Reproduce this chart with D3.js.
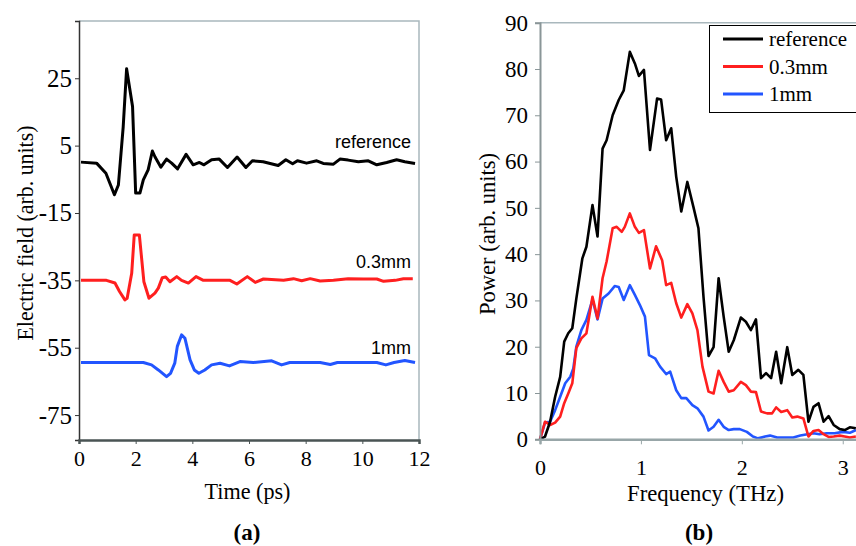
<!DOCTYPE html>
<html>
<head>
<meta charset="utf-8">
<script src="https://cdn.jsdelivr.net/npm/d3@7"></script>
<style>
  body { margin: 0; background: #fff; }
  svg { display: block; }
  text { font-family: "Liberation Serif", "Times New Roman", serif; }
  text.sans { font-family: "Liberation Sans", Arial, sans-serif; }
</style>
</head>
<body>
<svg id="chart" width="856" height="546"></svg>
<script>
// (a) time-domain traces, offset vertically
const timeRef  = [0.07,0.62,0.95,1.25,1.39,1.56,1.68,1.89,2.0,2.15,2.27,2.44,2.59,2.68,2.89,3.09,3.27,3.48,3.78,4.03,4.25,4.41,4.68,4.95,5.24,5.58,5.89,6.12,6.5,7.03,7.3,7.54,7.71,8.03,8.39,8.62,8.98,9.21,9.5,9.86,10.21,10.51,10.86,11.21,11.5,11.86]
const fieldRef = [0.1,-0.2,-3.2,-9.6,-6.7,10.6,27.8,16.6,-9.1,-9.1,-5.2,-2.2,3.4,1.7,-1.4,1.0,-0.2,-1.9,2.4,-0.7,0,-0.7,0.8,1.0,-1.5,1.6,-1.5,0.5,0.2,-0.9,0.8,-0.4,0.5,-0.2,0.5,-0.3,-0.5,1.0,0.7,0.2,0.5,-0.7,0,0.8,0.2,-0.3]

const time03  = [0.07,0.97,1.27,1.43,1.62,1.70,1.86,1.95,2.13,2.29,2.47,2.68,2.8,2.94,3.06,3.21,3.45,3.62,3.86,4.13,4.39,5.33,5.57,5.94,6.22,6.51,7.22,7.57,7.86,8.16,8.51,8.98,9.5,10.04,10.51,10.75,11.16,11.45,11.78]
const field03 = [-35,-35,-35.8,-38.3,-40.8,-40.3,-32.9,-21.5,-21.5,-35.4,-40.3,-38.8,-37.3,-34.2,-34.0,-35.4,-33.9,-35,-35.8,-33.9,-35,-35,-36.1,-33.9,-35.6,-34.6,-35,-34.5,-35.1,-34.5,-35.2,-35,-34.5,-34.6,-34.6,-35.3,-35,-34.5,-34.5]

const time1  = [0.07,2.27,2.56,2.8,3.09,3.23,3.38,3.47,3.62,3.74,3.92,4.07,4.23,4.44,4.68,4.98,5.31,5.68,6.15,6.8,7.15,7.44,8.51,8.87,9.12,10.51,10.83,11.12,11.5,11.86]
const field1 = [-59.4,-59.4,-60.1,-61.6,-63.6,-62.6,-59.6,-54.6,-51.2,-52.2,-58.6,-61.6,-62.6,-61.6,-60.1,-59.6,-60.4,-59.1,-59.4,-58.9,-60.1,-59.4,-59.4,-60.0,-59.4,-59.4,-60.1,-59.4,-58.8,-59.4]

const traceNames = ['reference', '0.3mm', '1mm']
const yTicksA = [25, 5, -15, -35, -55, -75]
const xTicksA = [0, 2, 4, 6, 8, 10, 12]

// (b) power spectra
const freqRef  = [0,0.05,0.1,0.15,0.2,0.24,0.28,0.32,0.36,0.42,0.46,0.52,0.57,0.62,0.66,0.72,0.78,0.83,0.89,0.94,0.98,1.03,1.09,1.16,1.20,1.25,1.30,1.35,1.40,1.46,1.52,1.57,1.62,1.67,1.72,1.77,1.82,1.87,1.92,1.99,2.04,2.09,2.14,2.19,2.24,2.29,2.34,2.39,2.45,2.50,2.56,2.61,2.66,2.71,2.76,2.81,2.86,2.91,2.97,3.02,3.07,3.13]
const powerRef = [0,0.6,3.8,9.2,13.5,21.1,22.9,24,30.4,39.1,41.6,50.6,43.8,62.8,64.6,70,73.3,75.4,83.7,81.2,78.5,79.8,62.5,73.6,73.4,64.6,67.2,56.7,49.2,55.6,50.2,45.6,30.8,18,19.9,34.8,26.5,18.9,21.4,26.3,25.4,23.6,25.9,13.2,14.3,13.2,18.9,12.1,19.9,13.9,15,13.9,3.8,7,7.8,3.8,5.0,3.1,2.2,2.0,2.6,2.4]

const freq03  = [0,0.05,0.1,0.15,0.2,0.24,0.28,0.32,0.36,0.41,0.46,0.52,0.57,0.62,0.66,0.72,0.76,0.81,0.84,0.89,0.94,0.98,1.03,1.09,1.15,1.21,1.25,1.30,1.35,1.40,1.46,1.51,1.56,1.61,1.67,1.72,1.77,1.82,1.87,1.92,1.99,2.04,2.09,2.14,2.19,2.25,2.30,2.34,2.39,2.45,2.50,2.55,2.61,2.66,2.71,2.76,2.81,2.86,2.91,2.97,3.02,3.07,3.13]
const power03 = [0,3.8,3.1,3.6,4.9,7.8,9.9,12.1,19.7,21.8,22.9,30.8,26.1,34.8,38.4,45.6,45.9,44.8,45.9,48.8,45.9,44.6,45.2,36.9,41.7,38.7,33.3,33.8,29.4,26.3,29.2,27.2,23.6,15.7,10.3,9.9,14.8,12.4,10.3,10.6,12.4,11.7,10.3,10.2,6,5.6,5.6,6.9,5.9,6.3,4.7,4.9,4.5,0.6,1.8,2.0,1.1,0.5,0.6,0.8,0.6,0.4,0.6]

const freq1  = [0,0.05,0.1,0.15,0.2,0.25,0.30,0.33,0.36,0.41,0.46,0.52,0.57,0.62,0.68,0.74,0.78,0.83,0.89,0.94,0.99,1.04,1.08,1.14,1.19,1.25,1.29,1.35,1.40,1.45,1.51,1.56,1.62,1.67,1.72,1.77,1.82,1.87,1.92,1.98,2.05,2.11,2.16,2.23,2.28,2.35,2.51,2.58,2.65,2.71,2.77,2.84,2.92,3.0,3.07,3.13]
const power1 = [0,3.6,3.8,6.3,9.2,12.1,13.5,15.3,20,23.6,25.8,30.2,25.9,30.4,31.5,33.1,32.9,30.1,33.3,31.2,29,26.5,18.2,17.5,15.7,14.1,14.6,10.6,8.9,8.9,7.4,6.7,4.9,1.9,2.7,4.2,2.7,2.0,2.2,2.2,1.6,0.6,0.2,0.6,0.8,0.4,0.4,0.8,1.1,1.3,1.1,1.3,1.3,1.6,1.4,2.0]

const yTicksB = [0, 10, 20, 30, 40, 50, 60, 70, 80, 90]
const xTicksB = [0, 1, 2, 3]

const colors = ['#000000', '#ff1f1f', '#2255ff']

const svg = d3.select('#chart')
const plain = d => (d < 0 ? '-' + Math.abs(d) : String(d))

function styleAxis (g, lineColor, width, size) {
  g.attr('font-family', null).attr('font-size', null)
  g.select('.domain').attr('stroke', lineColor).attr('stroke-width', width)
  g.selectAll('.tick line').attr('stroke', lineColor)
  g.selectAll('.tick text').style('font-size', size + 'px').attr('fill', '#000')
}

// ---------- panel (a) ----------
const xA = d3.scaleLinear().domain([0, 12]).range([79, 419])
const yA = d3.scaleLinear().domain([-82.4, 42]).range([440, 21])

svg.append('path')
  .attr('d', `M${xA(0)},${yA(42)}H${xA(12)}V${yA(-82.4)}`)
  .attr('fill', 'none').attr('stroke', '#a9b8bd').attr('stroke-width', 1.5)

const seriesA = [[timeRef, fieldRef], [time03, field03], [time1, field1]]
const lineA = d3.line().x(d => xA(d[0])).y(d => yA(d[1]))
seriesA.forEach((s, i) => {
  svg.append('path')
    .datum(d3.zip(s[0], s[1]))
    .attr('d', lineA)
    .attr('fill', 'none')
    .attr('stroke', colors[i])
    .attr('stroke-width', 3)
    .attr('stroke-linejoin', 'round')
})

const gYA = svg.append('g').attr('transform', `translate(${xA(0)},0)`)
  .call(d3.axisLeft(yA).tickValues(yTicksA).tickSize(4).tickPadding(3).tickFormat(plain))
styleAxis(gYA, '#333', 1.5, 25)

const gXA = svg.append('g').attr('transform', `translate(0,${yA(-82.4)})`)
  .call(d3.axisBottom(xA).tickValues(xTicksA).tickSize(4).tickPadding(6).tickFormat(plain))
styleAxis(gXA, '#4a5454', 2.5, 22)

const nameY = [148, 268, 354]
traceNames.forEach((n, i) => {
  svg.append('text')
    .attr('class', 'sans')
    .attr('x', 411).attr('y', nameY[i])
    .attr('text-anchor', 'end')
    .attr('font-size', 18)
    .text(n)
})

svg.append('text')
  .attr('transform', 'translate(33,233) rotate(-90)')
  .attr('text-anchor', 'middle')
  .attr('font-size', 23)
  .attr('textLength', 215).attr('lengthAdjust', 'spacingAndGlyphs')
  .text('Electric field (arb. units)')

svg.append('text')
  .attr('x', 247.5).attr('y', 499)
  .attr('text-anchor', 'middle')
  .attr('font-size', 24)
  .attr('textLength', 86).attr('lengthAdjust', 'spacingAndGlyphs')
  .text('Time (ps)')

svg.append('text')
  .attr('x', 247).attr('y', 540)
  .attr('text-anchor', 'middle')
  .attr('font-size', 23).attr('font-weight', 'bold')
  .text('(a)')

// ---------- panel (b) ----------
const xB = d3.scaleLinear().domain([0, 3.5]).range([540, 540 + 353.2])
const yB = d3.scaleLinear().domain([0, 90]).range([439.3, 22.7])

svg.append('line')
  .attr('x1', xB(0)).attr('x2', 856).attr('y1', yB(90)).attr('y2', yB(90))
  .attr('stroke', '#a9b8bd').attr('stroke-width', 1.5)

const seriesB = [[freqRef, powerRef], [freq03, power03], [freq1, power1]]
const lineB = d3.line().x(d => xB(d[0])).y(d => yB(d[1]))
;[2, 1, 0].forEach(i => {
  const s = seriesB[i]
  svg.append('path')
    .datum(d3.zip(s[0], s[1]))
    .attr('d', lineB)
    .attr('fill', 'none')
    .attr('stroke', colors[i])
    .attr('stroke-width', 2.6)
    .attr('stroke-linejoin', 'round')
})

const gYB = svg.append('g').attr('transform', `translate(${xB(0)},0)`)
  .call(d3.axisLeft(yB).tickValues(yTicksB).tickSize(5).tickPadding(7).tickFormat(plain))
styleAxis(gYB, '#8a9698', 2, 23)

const gXB = svg.append('g').attr('transform', `translate(0,${yB(0)})`)
  .call(d3.axisBottom(xB).tickValues(xTicksB).tickSize(5).tickPadding(15).tickFormat(plain))
styleAxis(gXB, '#98a6a8', 2.5, 22)

svg.append('text')
  .attr('transform', 'translate(495,234) rotate(-90)')
  .attr('text-anchor', 'middle')
  .attr('font-size', 23)
  .attr('textLength', 162).attr('lengthAdjust', 'spacingAndGlyphs')
  .text('Power (arb. units)')

svg.append('text')
  .attr('x', 705.5).attr('y', 501)
  .attr('text-anchor', 'middle')
  .attr('font-size', 24)
  .attr('textLength', 157).attr('lengthAdjust', 'spacingAndGlyphs')
  .text('Frequency (THz)')

svg.append('text')
  .attr('x', 699).attr('y', 540)
  .attr('text-anchor', 'middle')
  .attr('font-size', 23).attr('font-weight', 'bold')
  .text('(b)')

// legend
const legend = svg.append('g')
legend.append('rect')
  .attr('x', 709.5).attr('y', 25.5).attr('width', 160).attr('height', 87)
  .attr('fill', '#fff').attr('stroke', '#000').attr('stroke-width', 1)
traceNames.forEach((n, i) => {
  const y = 39 + i * 27.5
  legend.append('line')
    .attr('x1', 723).attr('x2', 763).attr('y1', y).attr('y2', y)
    .attr('stroke', colors[i]).attr('stroke-width', 3)
  legend.append('text')
    .attr('x', 769).attr('y', y + 7)
    .attr('font-size', 21)
    .text(n)
})
</script>
</body>
</html>
